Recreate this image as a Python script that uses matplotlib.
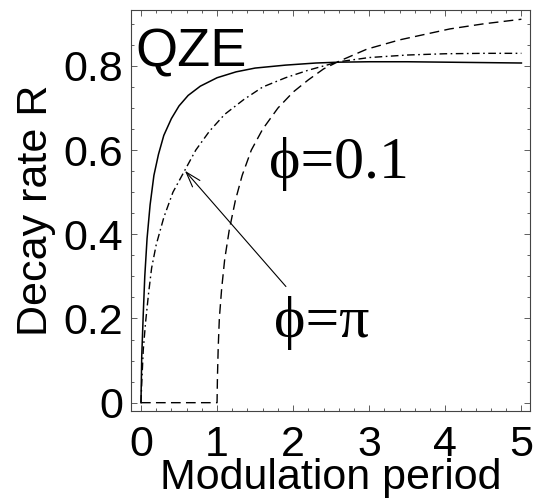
import numpy as np
import matplotlib
matplotlib.use("Agg")
import matplotlib.pyplot as plt
from matplotlib.ticker import MultipleLocator

plt.rcParams['font.family'] = ['Liberation Sans', 'DejaVu Sans']

# solid curve
x_solid = [0, 0.01, 0.03, 0.05, 0.08, 0.12, 0.17, 0.23, 0.3, 0.4, 0.5, 0.62, 0.78,
           1.0, 1.25, 1.5, 1.9, 2.3, 2.6, 3.0, 3.5, 4.0, 4.5, 5.0]
r_solid = [0, 0.11, 0.21, 0.30, 0.39, 0.47, 0.54, 0.59, 0.635, 0.675, 0.705, 0.73, 0.752,
           0.772, 0.786, 0.795, 0.802, 0.807, 0.809, 0.810, 0.810, 0.809, 0.808, 0.807]

# dash-dot curve (phi = pi)
x_dashdot = [0, 0.01, 0.03, 0.06, 0.1, 0.14, 0.2, 0.3, 0.42, 0.57, 0.72, 0.9, 1.1,
             1.35, 1.6, 1.9, 2.2, 2.6, 3.0, 3.5, 4.0, 4.5, 5.0]
r_dashdot = [0, 0.046, 0.125, 0.19, 0.26, 0.32, 0.375, 0.44, 0.50, 0.55, 0.60, 0.645, 0.685,
             0.72, 0.75, 0.772, 0.79, 0.81, 0.82, 0.826, 0.829, 0.830, 0.830]

# dashed curve (phi = 0.1)
x_dashed = [0, 1.0, 1.0, 1.005, 1.015, 1.03, 1.06, 1.1, 1.16, 1.24, 1.33, 1.45,
            1.6, 1.8, 2.0, 2.2, 2.4, 2.6, 2.97, 3.4, 4.06, 4.5, 5.0]
r_dashed = [0, 0, 0, 0.06, 0.13, 0.2, 0.27, 0.34, 0.41, 0.48, 0.54, 0.60,
            0.65, 0.70, 0.738, 0.767, 0.793, 0.811, 0.840, 0.862, 0.888, 0.900, 0.911]

x_ticks = [0, 1, 2, 3, 4, 5]
y_ticks = [0, 0.2, 0.4, 0.6, 0.8]
y_ticklabels = ["0", "0.2", "0.4", "0.6", "0.8"]

fig = plt.figure(figsize=(5.38, 4.99), dpi=100)
ax = fig.add_axes([0.2435, 0.177, 0.7415, 0.803])

ax.plot(x_solid, r_solid, color="black", lw=1.1)
ax.plot(x_dashdot, r_dashdot, color="black", lw=1.0, dashes=(5.5, 2.5, 1.2, 2.5))
ax.plot(x_dashed, r_dashed, color="black", lw=1.0, dashes=(7, 3.8))

ax.set_xlim(-0.131, 5.112)
ax.set_ylim(-0.019, 0.933)
ax.set_xticks(x_ticks)
ax.set_yticks(y_ticks)
ax.set_yticklabels(y_ticklabels)
ax.xaxis.set_minor_locator(MultipleLocator(0.2))
ax.yaxis.set_minor_locator(MultipleLocator(0.05))
ax.tick_params(which="both", direction="in", top=True, right=True, width=0.6, color="#444444")
ax.tick_params(which="major", length=4, labelsize=31)
ax.tick_params(axis="x", which="major", pad=10)
ax.tick_params(axis="y", which="major", pad=5.5)
ax.tick_params(which="minor", length=2)
for s in ax.spines.values():
    s.set_linewidth(0.8)
    s.set_color("#444444")

ax.set_xlabel("Modulation period", fontsize=31, labelpad=-4.5)
ax.set_ylabel("Decay rate R", fontsize=31, labelpad=5.8)

ax.text(-0.07, 0.798, "QZE", fontsize=39, ha="left", va="baseline")
ax.text(1.68, 0.534, "\u03d5=0.1", fontsize=43, family=["Liberation Serif", "DejaVu Serif"],
        ha="left", va="baseline")
ax.text(1.75, 0.155, "\u03d5=\u03c0", fontsize=43, family=["Liberation Serif", "DejaVu Serif"],
        ha="left", va="baseline")

ax.annotate("", xy=(0.578, 0.551), xytext=(1.905, 0.276),
            arrowprops=dict(arrowstyle="->,head_length=1.1,head_width=0.35",
                            lw=0.8, color="black", shrinkA=0, shrinkB=0,
                            mutation_scale=10))

fig.savefig("out.png", dpi=100)
